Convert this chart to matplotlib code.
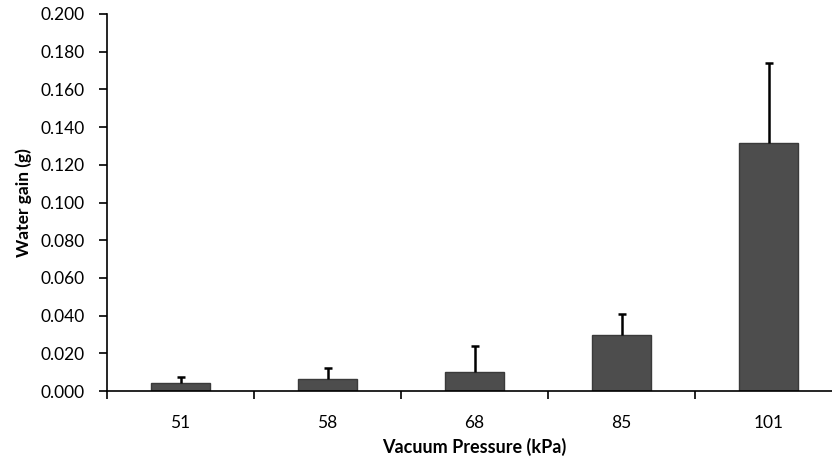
import numpy as np
import matplotlib.pyplot as plt
from matplotlib.ticker import FixedLocator, FormatStrFormatter

plt.rcParams['font.family'] = ['Lato', 'DejaVu Sans']

# Datos
presiones = ['51', '58', '68', '85', '101']
ganancia_agua = [0.0040, 0.0065, 0.0100, 0.0295, 0.1315]
error_sup = [0.0033, 0.0057, 0.0140, 0.0112, 0.0423]

fig = plt.figure(figsize=(8.32, 4.62), dpi=100)
ax = fig.add_axes([107 / 832, 1 - 391 / 462, 735 / 832, 377 / 462])

x = np.arange(len(presiones))
ax.bar(x, ganancia_agua, width=0.40, color='#4d4d4d', edgecolor='#3a3a3a',
       linewidth=1.0, zorder=2)
# solo la barra de error superior, sin tapa inferior
barras_err = ax.errorbar(x, ganancia_agua, yerr=[np.zeros(len(x)), error_sup], fmt='none',
                         ecolor='black', elinewidth=1.8, capsize=3.2, capthick=1.8, zorder=3)
barras_err[1][0].set_visible(False)

ax.set_xlim(-0.5, len(presiones) - 0.5)
ax.set_ylim(0, 0.2)
ax.set_yticks(np.arange(0, 0.201, 0.02))
ax.yaxis.set_major_formatter(FormatStrFormatter('%.3f'))

ax.set_xticks(x)
ax.set_xticklabels(presiones)
ax.xaxis.set_minor_locator(FixedLocator(np.arange(-0.5, len(presiones), 1.0)))
ax.tick_params(axis='x', which='major', length=0, pad=17, labelsize=12.5)
ax.tick_params(axis='x', which='minor', length=6, width=1.2, direction='out')
ax.tick_params(axis='y', length=6, width=1.2, direction='out', pad=10, labelsize=12.5)

for lado in ['top', 'right']:
    ax.spines[lado].set_visible(False)
for lado in ['left', 'bottom']:
    ax.spines[lado].set_linewidth(1.2)

ax.set_ylabel('Water gain (g)', fontsize=12.5, fontweight='bold')
ax.yaxis.set_label_coords(-(107 - 32) / 735, 0.5)
ax.set_xlabel('Vacuum Pressure (kPa)', fontsize=13, fontweight='bold')
ax.xaxis.set_label_coords((474 - 107) / 735, -(438 - 391) / 377)

fig.savefig('out.png', dpi=100)
